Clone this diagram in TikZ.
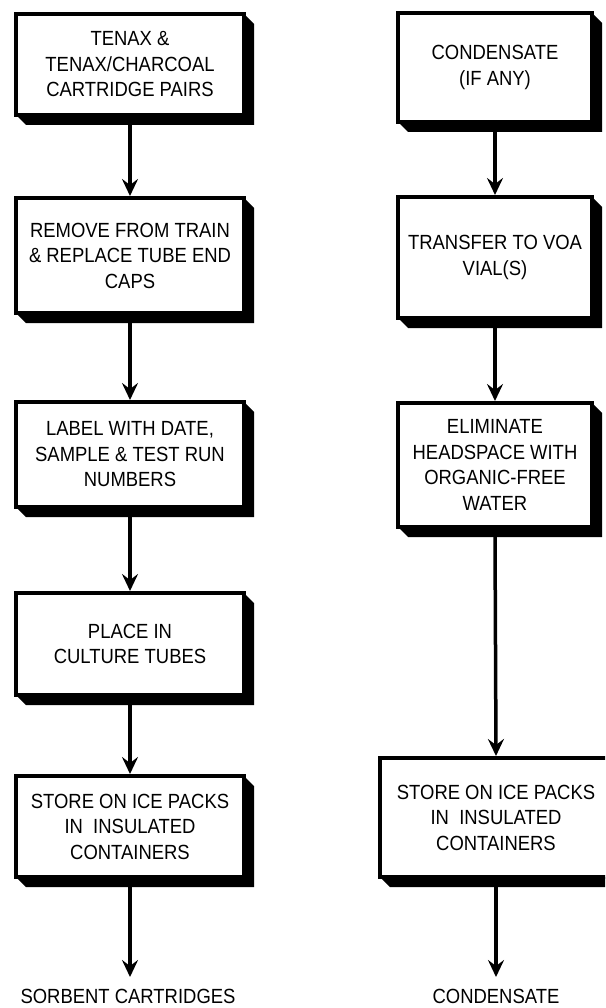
\documentclass[tikz,border=0pt]{standalone}
\usepackage{fontspec}
\setmainfont[FakeStretch=0.9]{Liberation Sans}
\usetikzlibrary{arrows.meta,calc}
\tikzset{
  x=1pt,y=-1pt,
  boxline/.style={line width=4.5pt,fill=white},
  shadowfill/.style={fill=black},
  flow/.style={line width=3.5pt,-{Stealth[length=17pt,width=16pt,inset=6pt]}},
  lbl/.style={align=center,font=\fontsize{20.5}{25.5}\selectfont,inner sep=0pt},
}
% \shbox{name}{left}{top}{right}{bottom}{text}
\newcommand{\shbox}[6]{%
  \fill[shadowfill] (#2,#5) -- (#4,#5) -- (#4,#3) -- ($(#4,#3)+(10,10)$) -- ($(#4,#5)+(10,10)$) -- ($(#2,#5)+(10,10)$) -- cycle;
  \draw[boxline] (#2,#3) rectangle (#4,#5);
  \coordinate (#1-n) at ({(#2+#4)/2},#3);
  \coordinate (#1-s) at ({(#2+#4)/2},#5+10);
  \node[lbl] (#1) at ({(#2+#4)/2},{(#3+#5)/2}) {#6};
}
\begin{document}
\begin{tikzpicture}
\useasboundingbox (0,0) rectangle (605,1008);
\clip (0,0) rectangle (605,1008);
\shbox{l1}{16}{14}{244}{115}{TENAX \&\\TENAX/CHARCOAL\\CARTRIDGE PAIRS}
\shbox{l2}{16}{198}{244}{313}{REMOVE FROM TRAIN\\\& REPLACE TUBE END\\CAPS}
\shbox{l3}{16}{402}{244}{507}{LABEL WITH DATE,\\SAMPLE \& TEST RUN\\NUMBERS}
\shbox{l4}{16}{593}{244}{695}{PLACE IN\\CULTURE TUBES}
\shbox{l5}{16}{776}{244}{877}{STORE ON ICE PACKS\\IN\ \ INSULATED\\CONTAINERS}
\shbox{r1}{398}{13}{592}{122}{CONDENSATE\\(IF ANY)}
\shbox{r2}{398}{197}{592}{318}{TRANSFER TO VOA\\VIAL(S)}
\shbox{r3}{398}{403}{592}{527}{ELIMINATE\\HEADSPACE WITH\\ORGANIC-FREE\\WATER}
\shbox{r4}{380}{758}{612}{877}{STORE ON ICE PACKS\\IN\ \ INSULATED\\CONTAINERS}
\node[lbl] (sorb) at (128,996) {SORBENT CARTRIDGES};
\node[lbl] (cond) at (496,996) {CONDENSATE};
\coordinate (sorbtip) at (130,977);
\coordinate (condtip) at (496,977);
\draw[flow] (l1-s) -- ([yshift=2pt]l2-n);
\draw[flow] (l2-s) -- ([yshift=2pt]l3-n);
\draw[flow] (l3-s) -- ([yshift=2pt]l4-n);
\draw[flow] (l4-s) -- ([yshift=2pt]l5-n);
\draw[flow] (l5-s) -- (sorbtip);
\draw[flow] (r1-s) -- ([yshift=2pt]r2-n);
\draw[flow] (r2-s) -- ([yshift=2pt]r3-n);
\draw[flow] (r3-s) -- ([yshift=2pt]r4-n);
\draw[flow] (r4-s) -- (condtip);
\end{tikzpicture}
\end{document}
